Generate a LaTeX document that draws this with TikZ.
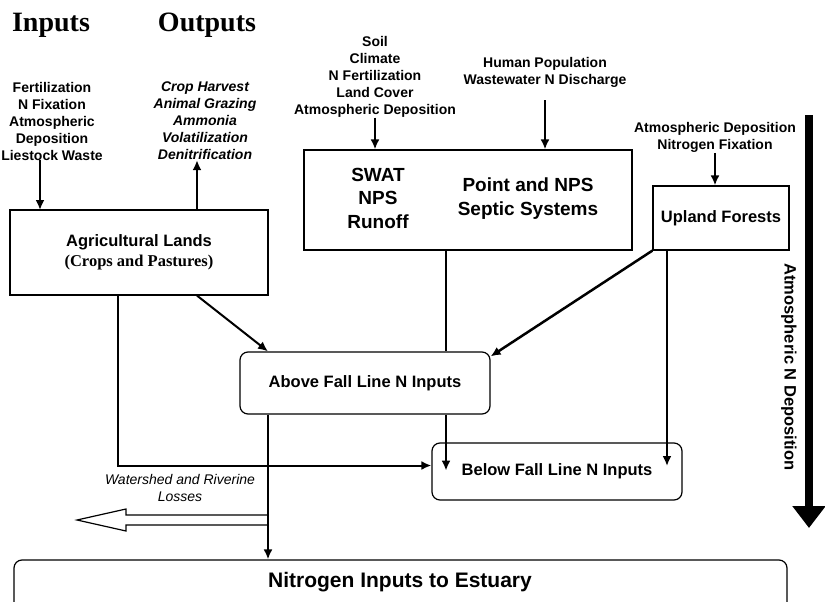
\documentclass[tikz,border=0pt]{standalone}
\usepackage{fontspec}
\setmainfont{Liberation Sans}
\newfontfamily\timesfont{Liberation Serif}
\usetikzlibrary{arrows.meta}

\begin{document}
\begin{tikzpicture}[x = 1pt, y = -1pt,
	>={Latex[length = 10pt, width = 9pt]},
	conn/.style = {line width = 2pt},
	box/.style = {draw, line width = 1.2pt, inner sep = 0pt, align = center, font = \fontsize{16.5}{20}\selectfont\bfseries},
	rbox/.style = {box, rounded corners = 8pt},
	lbl/.style = {align = center, inner sep = 0pt, font = \fontsize{14}{17}\selectfont\bfseries},
	heading/.style = {inner sep = 0pt, font = \fontsize{28}{30}\selectfont\timesfont\bfseries}]
	 \useasboundingbox (0, 0) rectangle (825, 602);
	 
	 % headings and input lists
	 \node[heading] (inputs) at (51, 25) {Inputs};
	 \node[heading] (outputs) at (207, 25) {Outputs};
	 \node[lbl] (inlist) at (52, 121) {Fertilization\\N Fixation\\Atmospheric\\Deposition\\Liestock Waste};
	 \node[lbl, font = \fontsize{14}{17}\selectfont\bfseries\itshape] (outlist) at (205, 121) {Crop Harvest\\Animal Grazing\\Ammonia\\Volatilization\\Denitrification};
	 \node[lbl] (soil) at (375, 77) {Soil\\Climate\\N Fertilization\\Land Cover\\Atmospheric Deposition};
	 \node[lbl] (human) at (545, 72) {Human Population\\Wastewater N Discharge};
	 \node[lbl] (forestin) at (715, 137.5) {Atmospheric Deposition\\Nitrogen Fixation};
	 
	 % boxes
	 \node[box, minimum width = 258pt, minimum height = 85pt] (ag) at (139, 252.5) {Agricultural Lands\\{\timesfont\bfseries (Crops and Pastures)}};
	 \node[box, minimum width = 328pt, minimum height = 100pt] (swat) at (468, 200) {};
	 \node[box, draw = none, font = \fontsize{19}{23.5}\selectfont\bfseries] (swatnps) at (378, 198) {SWAT\\NPS\\Runoff};
	 \node[box, draw = none, font = \fontsize{19}{24}\selectfont\bfseries] (pointnps) at (528, 199) {Point and NPS\\Septic Systems};
	 \node[box, minimum width = 136pt, minimum height = 64pt] (upland) at (721, 218) {Upland Forests};
	 \node[rbox, minimum width = 250pt, minimum height = 62pt] (above) at (365, 383) {Above Fall Line N Inputs};
	 \node[rbox, minimum width = 250pt, minimum height = 57pt] (below) at (557, 471.5) {Below Fall Line N Inputs};
	 \node[rbox, minimum width = 773pt, minimum height = 80pt] (estuary) at (400.5, 600) {};
	 \node[box, draw = none, font = \fontsize{21}{24}\selectfont\bfseries] (estuarytext) at (400, 582) {Nitrogen Inputs to Estuary};
	 
	 \coordinate (infoot) at (40, 210);
	 \coordinate (agout) at (197, 210);
	 \coordinate (humtop) at (545, 100);
	 \coordinate (xagv) at (118, 0);
	 \coordinate (xabove) at (268, 0);
	 \coordinate (xswat) at (446, 0);
	 \coordinate (xforest) at (667, 0);
	 \coordinate (forestend) at (667, 466);
	 
	 % connectors
	 \draw[conn, ->] (inlist.south -| infoot) -- (infoot);
	 \draw[conn, ->] (agout) -- (agout |- outlist.south);
	 \draw[conn, ->] (soil.south) -- (soil.south |- swat.north);
	 \draw[conn, ->] (humtop) -- (humtop |- swat.north);
	 \draw[conn, ->] (forestin.south) -- (forestin.south |- upland.north);
	 
	 \draw[conn, ->] (ag.south -| agout) -- (above.north -| xabove);
	 \draw[conn, ->] (ag.south -| xagv) |- ([yshift = 6pt] below.west);
	 \draw[conn] (swat.south -| xswat) -- (above.north -| xswat);
	 \draw[conn, ->] (above.south -| xswat) -- ++(0, 56);
	 \draw[line width = 2.5pt, ->] (upland.south west) -- ([yshift = -5pt] above.north east);
	 \draw[conn, ->] (upland.south -| xforest) -- (forestend);
	 \draw[conn, ->] (above.south -| xabove) -- (estuary.north -| xabove);
	 
	 % losses
	 \coordinate (loss) at (268, 520);
	 \draw[line width = 1.2pt] (loss) ++(0, -5) -- ++(-142, 0) -- ++(0, -6) -- ++(-49, 11) -- ++(49, 11) -- ++(0, -6) -- ++(142, 0);
	 \node[lbl, font = \fontsize{14}{17}\selectfont\itshape] (losslabel) at (180, 488) {Watershed and Riverine\\Losses};
	 
	 % atmospheric deposition
	 \coordinate (atmtop) at (809, 115);
	 \coordinate (atmtip) at (809, 528);
	 \draw[line width = 8pt, -{Triangle[length = 22pt, width = 32pt]}] (atmtop) -- (atmtip);
	 \node[lbl, font = \fontsize{16.5}{20}\selectfont\bfseries, rotate = -90] (atmdep) at (789, 367) {Atmospheric N Deposition};
	 \end{tikzpicture}
\end{document}
